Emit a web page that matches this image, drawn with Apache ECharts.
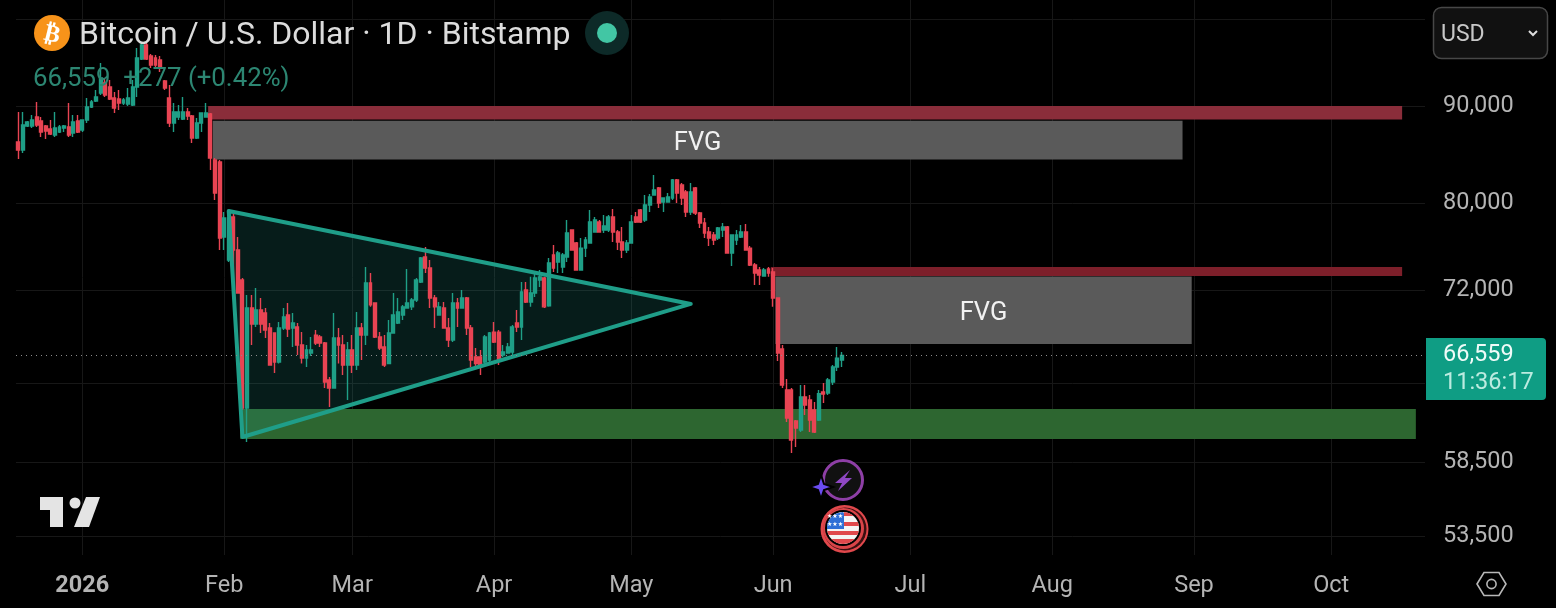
<!DOCTYPE html>
<html><head><meta charset="utf-8">
<style>html,body{margin:0;padding:0;background:#000}#c{width:1556px;height:608px}</style>
<script src="https://cdn.jsdelivr.net/npm/echarts@6/dist/echarts.min.js"></script>
</head><body><div id="c"></div>
<script>
const title = 'Bitcoin / U.S. Dollar · 1D · Bitstamp';
const quote = '66,559  +277 (+0.42%)';
const lastPrice = 66559;
const countdown = '11:36:17';
const firstDay = '2025-12-18';
const dayCount = 308;
const monthLabels = {'2026-01-01':'2026','2026-02-01':'Feb','2026-03-01':'Mar','2026-04-01':'Apr','2026-05-01':'May','2026-06-01':'Jun','2026-07-01':'Jul','2026-08-01':'Aug','2026-09-01':'Sep','2026-10-01':'Oct'};
const priceLabels = [90000,80000,72000,58500,53500];
const priceLines = [100000,90000,80000,72000,64400,58500,53500];

const opens = [86170,85340,87850,87850,88810,88380,87850,87530,86900,87220,
87640,87740,87110,88380,87430,88490,89890,90550,91420,92540,
92100,90870,90760,90330,90220,90110,92100,95270,96900,95620,
95380,95150,92760,90870,88170,88810,88600,89350,88920,86580,
88170,88810,89130,84310,84100,76810,74700,78690,75610,72920,
62460,70490,69140,70320,70070,68810,68390,66040,68810,69900,
68810,68890,67410,66350,66760,68220,68060,67570,64610,63990,
67980,67410,65800,67000,65800,68810,68220,72660,70920,68060,
67240,65920,68390,69220,69900,70490,70590,71180,72740,74980,
73990,71350,69900,70490,68810,67820,70920,70490,71350,68810,
66440,66440,66040,66200,68470,68470,66600,66760,66840,69220,
68890,72040,71000,71780,72920,73100,70680,75160,74530,74080,
74980,77470,76260,73810,75790,76260,77280,78220,77470,77470,
78690,77280,76350,75610,76260,78690,79360,78410,79840,80810,
81500,80130,80130,80530,82300,81800,81110,79170,81500,79070,
78120,77280,77000,76720,77470,77750,75340,76530,76810,77280,
75790,74260,73810,73280,73900,73630,71350,67080,63840,63840,
61490,60820,63300,63070,62310,61560,63680,63610,64460,65640,66200];
const closes = [85340,87950,88270,88490,87960,87220,87320,87010,87640,87740,
87850,86900,88270,87220,88490,89890,90440,90980,93100,91200,
90760,89780,90330,90650,90870,92100,95380,96900,95270,94570,
94570,94230,91980,88170,89350,89350,89350,88920,86580,88170,
89240,89240,84510,81010,76720,78600,78600,75610,71780,62460,
70500,69140,70320,69140,68640,65800,66040,68810,69730,68720,
69220,67410,66350,67000,67000,67570,67570,64460,63990,67980,
67410,65800,67000,65800,68810,68220,72660,70760,68060,67160,
65800,68390,69900,70150,70590,70920,71180,72920,74890,73990,
71350,70590,70590,68810,67820,70920,70490,71350,68810,66200,
65920,65640,68060,68390,67650,66200,66840,67240,68890,68890,
71870,71000,71780,73100,73200,70590,74430,73990,75340,75160,
77190,75610,73810,75790,76530,78220,78410,77280,77840,78690,
77280,76350,75610,76260,78220,78220,78220,79840,80620,81310,
80040,80530,80620,82300,81010,80530,79170,81110,79070,78120,
77190,76720,76530,77650,77750,75340,77000,77000,77280,75610,
74260,73540,73360,73810,73540,71350,66760,64230,61710,60090,
60970,63300,62690,61560,60670,63560,63530,64610,65640,66350,66559];
const lows = [84410,85030,87740,87640,87740,86690,86480,86900,86690,87110,
87220,86690,86690,87110,87220,88170,89780,90440,91200,90980,
90650,89240,89570,90110,90000,90000,90980,95150,95150,94230,
94230,93770,91760,87740,87220,88490,88490,88490,86060,86480,
87220,88810,83300,80330,75610,75610,74530,72920,71780,62310,
59950,67400,68890,68390,67980,65800,65160,65920,68640,68060,
67240,66600,65920,65640,66520,67410,67240,63990,62530,63990,
65920,65000,63070,65160,65400,66200,67410,70590,67980,67000,
65640,65920,68390,69140,69480,70490,70320,71000,72660,73540,
70490,68810,69900,68810,67240,67650,68890,70490,68220,65640,
65640,65000,65920,65920,67570,65800,66440,66760,66600,68470,
67820,70920,70590,71440,72300,70490,70590,73630,73540,73540,
74530,75610,73810,73810,74980,76260,77280,77280,77190,77280,
76350,75610,74890,75340,76260,78120,78120,78220,79170,80810,
79550,79170,80130,80330,80040,79840,78690,78880,78880,77650,
76720,75980,76070,76530,76810,75340,74170,76070,76720,75610,
74170,72480,72480,73200,73200,70590,66120,63990,61410,59150,
59580,60670,61930,60670,60600,61490,62840,63450,64230,65320,65640];
const highs = [89350,89350,88380,89030,90440,88810,87960,88490,89350,87960,
87960,90330,89030,89030,88490,90870,90650,91760,94810,93100,
92880,91530,91760,90870,91980,92880,96540,97130,97130,95850,
95730,95620,92880,92320,90330,90110,90980,89780,89030,88700,
89240,90330,89240,84510,84310,79170,79360,79070,76810,73100,
71610,71610,72220,71350,70490,69220,68390,69310,70490,70920,
70070,69220,68470,67410,68060,68640,68220,67650,64850,70070,
68810,68220,67650,68220,70150,69220,74080,73540,70920,68470,
68220,69480,71780,71350,70750,73900,71350,73100,74980,75890,
74700,71610,71000,71000,69650,71780,71350,72040,71440,69060,
67160,67000,68220,68470,69310,68640,67410,67570,69060,70320,
72740,72740,73200,73540,73810,73200,74890,76070,75520,75340,
78410,77470,76350,76720,76810,79360,78690,78410,78880,78880,
79460,77470,77750,76530,78880,79170,79460,80810,80910,82790,
81600,80530,81010,82390,82390,81990,81310,81990,81600,79170,
78600,77750,77280,77750,78120,77840,77000,77470,77940,78030,
75980,74430,74080,73990,74080,73990,71350,67410,64690,63990,
61560,64230,64230,63450,62910,63840,64380,64770,65800,67240,66840];

// Price zones, by trading day and price
const zoneLabels = ['', 'FVG', '', 'FVG', ''];
const zoneStarts = ['2026-01-29','2026-01-30','2026-06-01','2026-06-02','2026-02-05'];
const zoneEnds = ['2026-10-16','2026-08-29','2026-10-16','2026-08-31','2026-10-19'];
const zoneTops = [90000,88410,74080,73220,62390];
const zoneBottoms = [88540,84360,73280,67490,60160];
const zoneColors = ['#8a2d3a','#5a5a5a','#7d1f2a','#5a5a5a','#2d6630'];
// Triangle pattern vertices
const triangleDays = ['2026-02-02','2026-05-14','2026-02-05'];
const trianglePrices = [79270,70840,60310];

function buildDays(){
  const out=[]; const t=new Date(firstDay+'T00:00:00Z');
  for(let i=0;i<dayCount;i++){ out.push(new Date(t.getTime()+i*864e5).toISOString().slice(0,10)); }
  return out;
}
const days = buildDays();
const isMonthStart = (i, v) => monthLabels[v] !== undefined;
const UP='#1f9f87', DOWN='#e84453', TXT='#b4b4b4', GRID='#171717';
const FONT='Roboto';

const chart = echarts.init(document.getElementById('c'), null, {renderer:'canvas'});

function renderZone(p, api){
  const i=p.dataIndex, half=api.size([1,0])[0]/2;
  const a=api.coord([zoneStarts[i],zoneTops[i]]), b=api.coord([zoneEnds[i],zoneBottoms[i]]);
  const x=a[0]-half, w=b[0]+half-x, y=a[1], h=b[1]-a[1];
  const kids=[{type:'rect',shape:{x,y,width:w,height:h},style:{fill:zoneColors[i]}}];
  if(zoneLabels[i]) kids.push({type:'text',x:x+w/2,y:y+h/2+3,style:{text:zoneLabels[i],fill:'#f2f2f2',font:'25.5px '+FONT,align:'center',verticalAlign:'middle'}});
  return {type:'group',children:kids};
}
function triangleShape(api){ return triangleDays.map((d,i)=>api.coord([d,trianglePrices[i]])); }

// part of the round flag icon: box clipped to a circle of radius r
function flagPart(cx,cy,r,x0,x1,y0,y1){
  const L=[],R=[];
  for(let y=y0;y<=y1+1e-6;y+=(y1-y0)/12){
    const e=Math.sqrt(Math.max(0,r*r-y*y));
    R.push([cx+Math.min(x1,e),cy+y]); L.unshift([cx+Math.max(x0,-e),cy+y]);
  }
  return R.concat(L);
}
const imgZ=100;
function txt(x,y,text,fill,font,extra){return Object.assign({type:'text',z:imgZ+2,x,y,style:{text,fill,font,align:'left',verticalAlign:'middle'}},extra||{});}

chart.setOption({
  animation:false,
  backgroundColor:'#000',
  textStyle:{fontFamily:FONT},
  grid:{left:16,top:0,width:1409,height:555,containLabel:false},
  xAxis:{type:'category',data:days,boundaryGap:true,
    axisLine:{show:false},axisTick:{show:false,alignWithLabel:true,interval:isMonthStart},
    splitLine:{show:true,alignWithLabel:true,interval:isMonthStart,lineStyle:{color:GRID,width:1}},
    axisLabel:{interval:isMonthStart,margin:19,fontSize:23.5,fontFamily:FONT,color:TXT,
      formatter:v=>{const l=monthLabels[v];return l==='2026'?'{b|2026}':(l||'');},
      rich:{b:{fontWeight:'bold',fontSize:23.5,fontFamily:FONT,color:TXT}}}},
  yAxis:{type:'log',logBase:10,position:'right',min:52290,max:102310,
    axisLine:{show:false},
    axisTick:{show:false,customValues:priceLines},
    splitLine:{show:true,lineStyle:{color:GRID,width:1}},
    axisLabel:{customValues:priceLabels,margin:18,align:'left',fontSize:23.5,fontFamily:FONT,color:TXT,padding:[0,0,5,0],
      formatter:v=>Math.round(v).toLocaleString('en-US')}},
  series:[
    {type:'custom',name:'zones',z:1,clip:false,renderItem:renderZone,silent:true,
     data:zoneStarts.map((d,i)=>[d,zoneTops[i]])},
    {type:'custom',name:'triangle fill',z:1.5,renderItem:(p,api)=>({type:'polygon',shape:{points:triangleShape(api)},style:{fill:'rgba(38,166,154,0.17)'}}),silent:true,
     data:[[triangleDays[0],trianglePrices[0]]]},
    {type:'candlestick',name:'BTCUSD',z:2,barWidth:3.4,
     itemStyle:{color:UP,color0:DOWN,borderColor:UP,borderColor0:DOWN,borderWidth:1.4},
     data:opens.map((o,i)=>[o,closes[i],lows[i],highs[i]]),
     markLine:{silent:true,symbol:'none',animation:false,label:{show:false},
       lineStyle:{color:'#8c8c8c',type:[1,4],width:1},data:[{yAxis:lastPrice}]}},
    {type:'custom',name:'triangle line',z:3,renderItem:(p,api)=>({type:'polygon',shape:{points:triangleShape(api)},style:{fill:'none',stroke:'#1f9e89',lineWidth:4,lineJoin:'round'}}),silent:true,
     data:[[triangleDays[0],trianglePrices[0]]]}
  ],
  graphic:{elements:[
    // header
    {type:'circle',z:imgZ,shape:{cx:52,cy:33,r:18},style:{fill:'#f7931a'}},
    {type:'text',z:imgZ+1,x:52,y:35,rotation:-0.24,style:{text:'₿',fill:'#fff',font:'bold 24px "DejaVu Sans"',align:'center',verticalAlign:'middle'}},
    txt(79,36,title,'#dcdcdc','32px '+FONT),
    txt(33,80,quote,'#2c8672','25.8px '+FONT),
    {type:'circle',z:imgZ,shape:{cx:607,cy:33,r:22},style:{fill:'#0d2a28'}},
    {type:'circle',z:imgZ,shape:{cx:607,cy:33,r:10},style:{fill:'#42c6a4'}},
    // currency selector
    {type:'rect',z:imgZ,shape:{x:1433.5,y:7.5,width:114,height:51,r:8},style:{fill:'#111',stroke:'#474747',lineWidth:1.5}},
    txt(1441,35,'USD','#c8c8c8','23px '+FONT),
    {type:'polyline',z:imgZ,shape:{points:[[1529,31],[1533,35],[1537,31]]},style:{stroke:'#ddd',lineWidth:2,fill:'none'}},
    // last price tag
    {type:'rect',z:imgZ,shape:{x:1426,y:338,width:120,height:62,r:[0,4,4,0]},style:{fill:'#0f9d84'}},
    txt(1443,355,'66,559','#f0fbf8','23.5px '+FONT),
    txt(1443,383,countdown,'#bcebe0','23.5px '+FONT),
    // TV logo
    {type:'polygon',z:imgZ,shape:{points:[[40,497],[63,497],[63,527],[50,527],[50,510],[40,510]]},style:{fill:'#e4e4e4'}},
    {type:'circle',z:imgZ,shape:{cx:75,cy:503,r:5.5},style:{fill:'#e4e4e4'}},
    {type:'polygon',z:imgZ,shape:{points:[[100,497],[89,527],[74,527],[86,497]]},style:{fill:'#e4e4e4'}},
    // settings hex
    {type:'polygon',z:imgZ,shape:{points:[[1477,584],[1484,572.5],[1499,572.5],[1506,584],[1499,595.5],[1484,595.5]]},style:{fill:'none',stroke:'#b8b8b8',lineWidth:1.6}},
    {type:'circle',z:imgZ,shape:{cx:1491.5,cy:584,r:4.6},style:{fill:'none',stroke:'#b8b8b8',lineWidth:1.6}},
    // event icons
    {type:'circle',z:imgZ,shape:{cx:843,cy:480,r:19.5},style:{fill:'#111',stroke:'#8e3fa6',lineWidth:3}},
    {type:'polygon',z:imgZ,shape:{points:[[850,470],[835,483],[842,483],[838,491],[852,478],[845,478]]},style:{fill:'#8f47c4'}},
    {type:'polygon',z:imgZ+1,shape:{points:[[821,475],[824,484],[833,487],[824,490],[821,499],[818,490],[809,487],[818,484]]},style:{fill:'#6a4cf0',stroke:'#000',lineWidth:2}},
    {type:'circle',z:imgZ,shape:{cx:844.5,cy:529,r:24},style:{fill:'#e0484c'}},
    {type:'circle',z:imgZ,shape:{cx:845,cy:529,r:21.5},style:{fill:'#3a0f10'}},
    {type:'circle',z:imgZ,shape:{cx:843.5,cy:528.5,r:20.5},style:{fill:'#d94448'}},
    {type:'circle',z:imgZ,shape:{cx:843,cy:528,r:18},style:{fill:'#000'}},
    {type:'circle',z:imgZ,shape:{cx:843,cy:528,r:16},style:{fill:'#f4f4f4'}},
    {type:'polygon',z:imgZ,shape:{points:flagPart(843,528,16,1,16,-16,-12)},style:{fill:'#e0484c'}},
    {type:'polygon',z:imgZ,shape:{points:flagPart(843,528,16,1,16,-6,-2)},style:{fill:'#e0484c'}},
    {type:'polygon',z:imgZ,shape:{points:flagPart(843,528,16,-16,16,3,7)},style:{fill:'#e0484c'}},
    {type:'polygon',z:imgZ,shape:{points:flagPart(843,528,16,-16,16,11,16)},style:{fill:'#e0484c'}},
    {type:'polygon',z:imgZ+1,shape:{points:flagPart(843,528,16,-16,1,-16,1)},style:{fill:'#2f6fd6'}},
    {type:'text',z:imgZ+2,x:835,y:520,style:{text:'★★★\n★★★',fill:'#fff',font:'6px "DejaVu Sans"',lineHeight:8,align:'center',verticalAlign:'middle'}}
  ]}
});
</script></body></html>
